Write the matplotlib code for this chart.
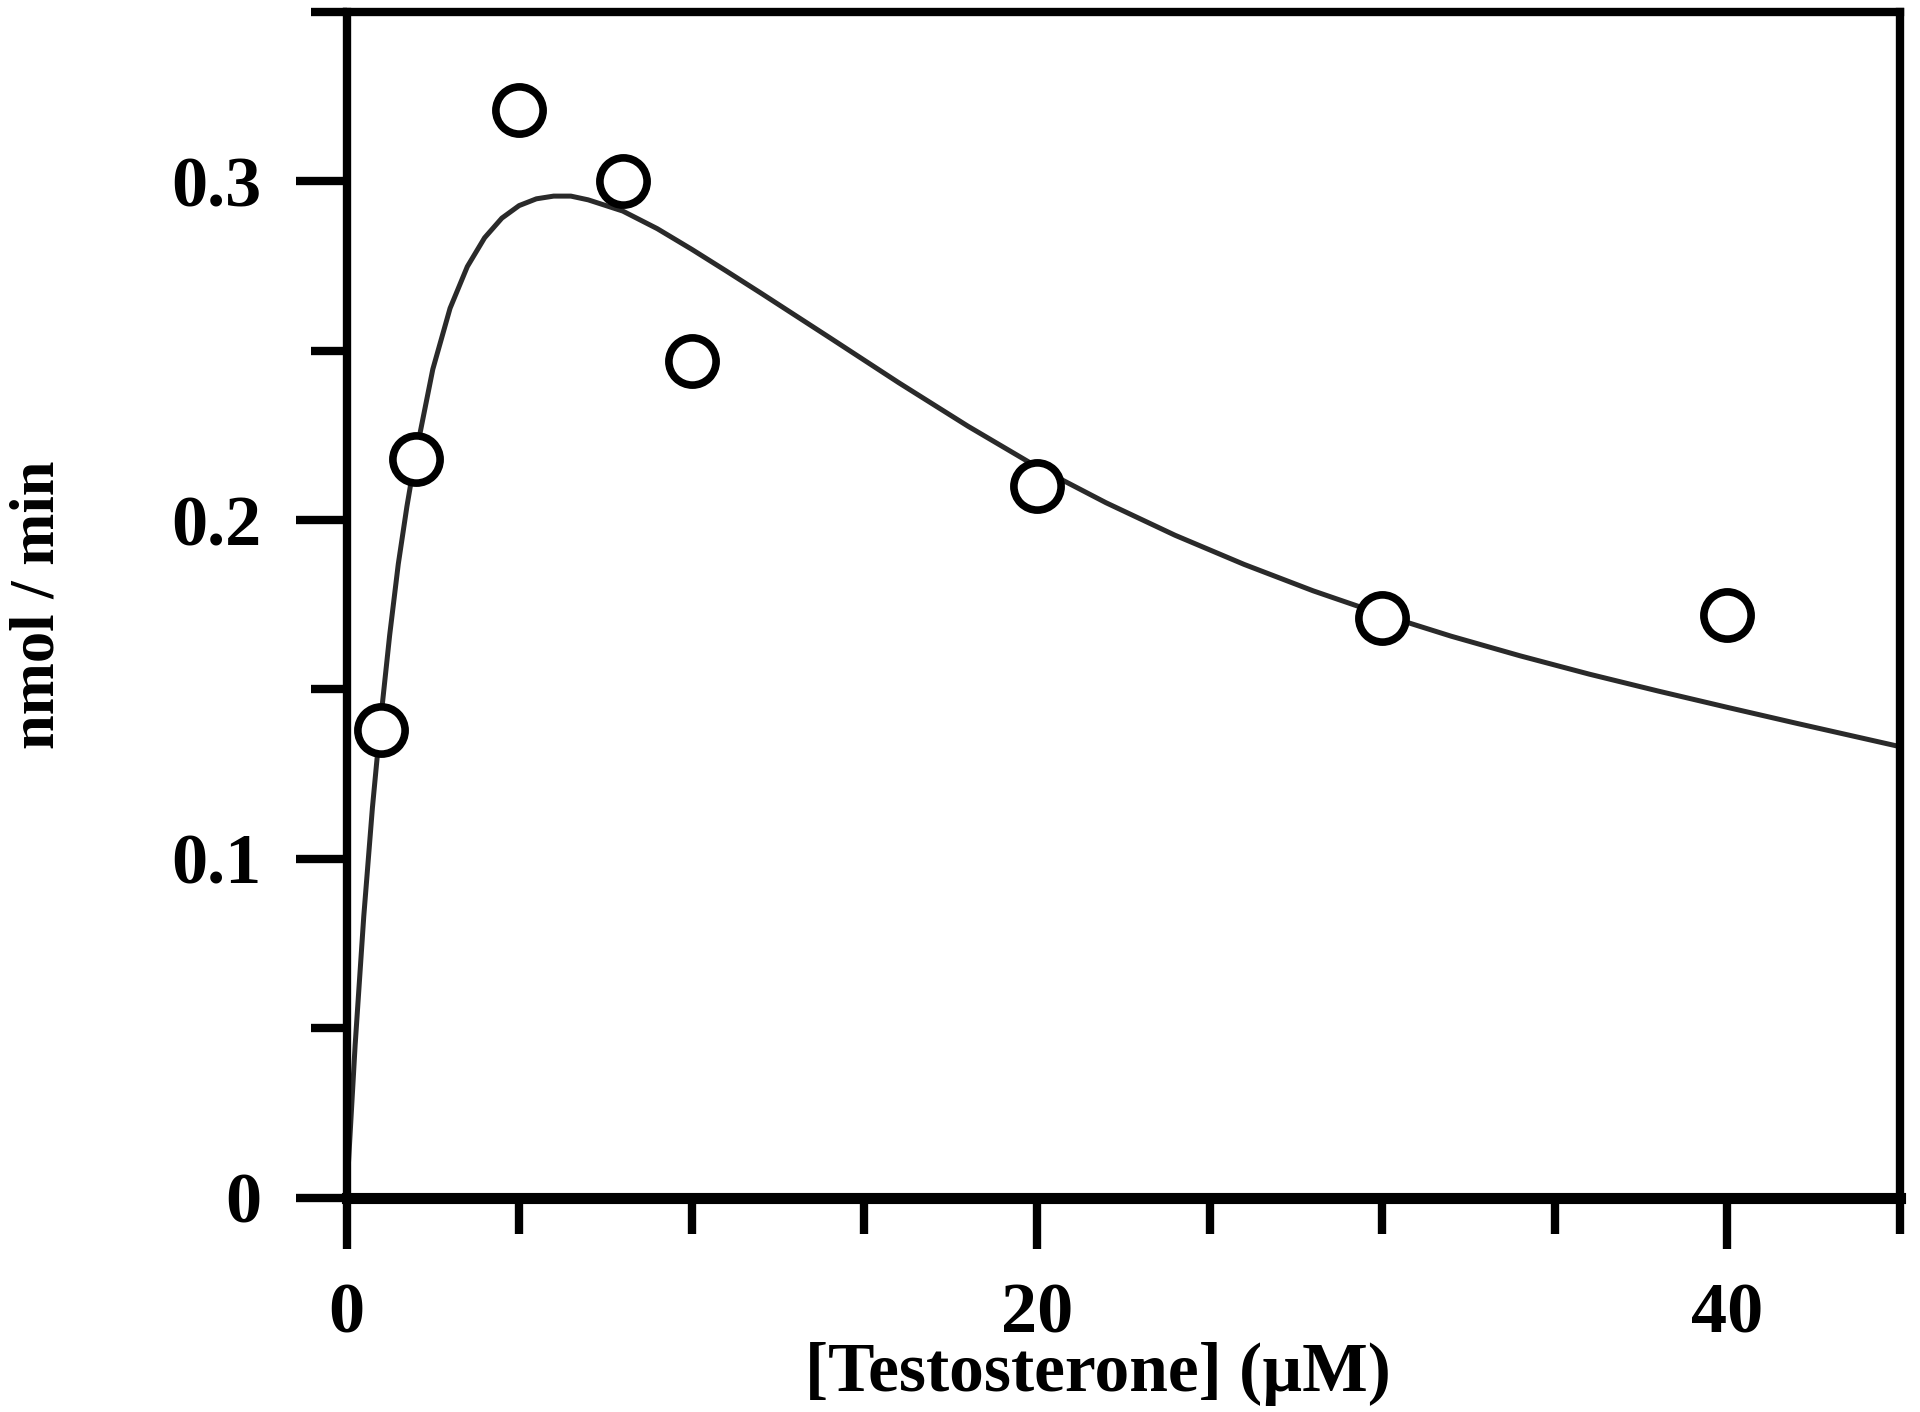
import matplotlib
matplotlib.use("Agg")
import matplotlib.pyplot as plt
from matplotlib.ticker import MultipleLocator, FixedLocator, FixedFormatter

# measured points
conc = [1, 2, 5, 8, 10, 20, 30, 40]
rate = [0.138, 0.218, 0.321, 0.300, 0.247, 0.210, 0.171, 0.172]

# fitted curve
fit_x = [0, 0.25, 0.5, 0.75, 1, 1.25, 1.5, 1.75, 2, 2.5, 3, 3.5, 4, 4.5, 5,
         5.5, 6, 6.5, 7, 8, 9, 10, 11, 12, 14, 16, 18, 20, 22, 24, 26, 28,
         30, 32, 34, 36, 38, 40, 42, 45]
fit_y = [0, 0.045, 0.083, 0.115, 0.142, 0.166, 0.187, 0.204, 0.219, 0.2445,
         0.2625, 0.2748, 0.2833, 0.2891, 0.2928, 0.2948, 0.2956, 0.2956,
         0.2945, 0.2912, 0.2860, 0.2799, 0.2735, 0.2670, 0.2538, 0.2405,
         0.2277, 0.2157, 0.2051, 0.1955, 0.1869, 0.1791, 0.1721, 0.1657,
         0.1599, 0.1545, 0.1495, 0.1447, 0.1400, 0.1331]

xticks_major = [0, 20, 40]
xtick_labels = ["0", "20", "40"]
yticks_major = [0, 0.1, 0.2, 0.3]
ytick_labels = ["0", "0.1", "0.2", "0.3"]

plt.rcParams["font.family"] = ["Liberation Serif", "DejaVu Serif"]
plt.rcParams["font.weight"] = "bold"

fig = plt.figure(figsize=(19.2, 14.12), dpi=100)
ax = fig.add_axes([0.18047, 0.15184, 0.80911, 0.8398])

ax.plot(fit_x, fit_y, color="#2a2a2a", lw=3.6, zorder=2,
        solid_joinstyle="round")
ax.plot(conc, rate, "o", ms=34, mfc="white", mec="black", mew=5.5, zorder=3)

ax.set_xlim(0, 45)
ax.set_ylim(0, 0.35)

ax.xaxis.set_major_locator(FixedLocator(xticks_major))
ax.xaxis.set_major_formatter(FixedFormatter(xtick_labels))
ax.xaxis.set_minor_locator(MultipleLocator(5))
ax.yaxis.set_major_locator(FixedLocator(yticks_major))
ax.yaxis.set_major_formatter(FixedFormatter(ytick_labels))
ax.yaxis.set_minor_locator(MultipleLocator(0.05))

ax.tick_params(which="both", direction="out", top=False, right=False,
               labelsize=52, pad=24, width=6)
ax.tick_params(which="major", length=37)
ax.tick_params(which="minor", length=26)

for side in ["left", "top", "right"]:
    ax.spines[side].set_linewidth(6)
ax.spines["bottom"].set_linewidth(8)

ax.set_xlabel("[Testosterone] (\u00b5M)", fontsize=50, fontweight="bold")
ax.xaxis.set_label_coords(0.4838, -0.1215)
ax.set_ylabel("nmol / min", fontsize=45, fontweight="bold")
ax.yaxis.set_label_coords(-0.1799, 0.4997)

fig.savefig("out.png", dpi=100, facecolor="white")
